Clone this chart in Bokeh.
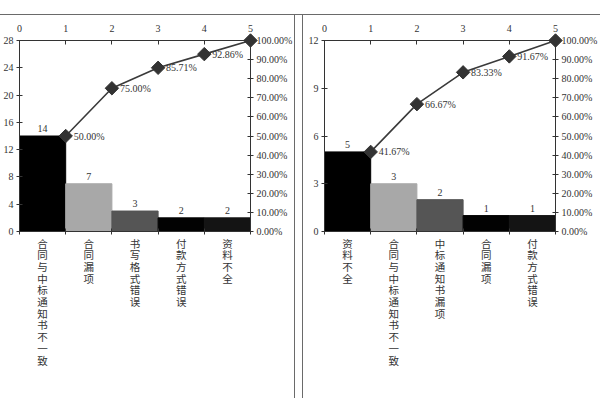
import math
from bokeh.plotting import figure
from bokeh.models import (Range1d, LinearAxis, FixedTicker, NumeralTickFormatter,
                          ColumnDataSource)
from bokeh.layouts import row
from bokeh.embed import file_html
from bokeh.resources import INLINE
from bokeh.core.properties import value

# ---- data ----
left_categories = ["合同与中标通知书不一致", "合同漏项", "书写格式错误", "付款方式错误", "资料不全"]
left_counts = [14, 7, 3, 2, 2]
left_cum_pct = [0.50, 0.75, 0.8571, 0.9286, 1.00]
left_count_ticks = [0, 4, 8, 12, 16, 20, 24, 28]

right_categories = ["资料不全", "合同与中标通知书不一致", "中标通知书漏项", "合同漏项", "付款方式错误"]
right_counts = [5, 3, 2, 1, 1]
right_cum_pct = [0.4167, 0.6667, 0.8333, 0.9167, 1.00]
right_count_ticks = [0, 3, 6, 9, 12]

pct_ticks = [0.0, 0.1, 0.2, 0.3, 0.4, 0.5, 0.6, 0.7, 0.8, 0.9, 1.0]
top_ticks = [0, 1, 2, 3, 4, 5]

# ---- styles ----
bar_colors = ["#000000", "#a8a8a8", "#555555", "#020202", "#141414"]
NUM_FONT = value("Liberation Serif")
CJK_FONT = "Noto Sans CJK SC"
TXT = "#333333"
AX = "#333333"
BORDER = "#6a6a6a"


def style_axis(ax, size="10px"):
    ax.axis_line_color = AX
    ax.major_tick_line_color = AX
    ax.minor_tick_line_color = None
    ax.major_label_text_font = "Liberation Serif"
    ax.major_label_text_font_size = size
    ax.major_label_text_color = TXT


def panel_bg(vline_x):
    g = f"linear-gradient({BORDER},{BORDER})"
    return {"background": f"{g} 0px 14px / 100% 1px no-repeat, {g} {vline_x}px 14px / 1px 100% no-repeat"}


def make_panel(cats, counts, cum, count_ticks, width, left, right, styles):
    n = len(cats)
    p = figure(width=width, height=398, x_range=Range1d(0, n),
               y_range=Range1d(0, count_ticks[-1]),
               output_backend="svg", toolbar_location=None,
               x_axis_location=None, y_axis_location=None,
               min_border_left=left, min_border_right=right,
               min_border_top=40, min_border_bottom=167, styles=styles)
    p.grid.visible = False
    p.outline_line_color = None
    p.background_fill_color = None
    p.border_fill_color = None
    p.extra_y_ranges = {"pct": Range1d(0, 1)}

    centers = [i + 0.5 for i in range(n)]
    src = ColumnDataSource(dict(x=centers, top=counts, color=bar_colors[:n],
                                label=[str(c) for c in counts]))
    p.vbar(x="x", top="top", width=1, fill_color="color", line_color="color", source=src)
    p.text(x="x", y="top", text="label", source=src, text_align="center",
           text_baseline="bottom", y_offset=-4, text_font=NUM_FONT,
           text_font_size="10px", text_color=TXT)

    ends = list(range(1, n + 1))
    lsrc = ColumnDataSource(dict(x=ends, y=cum))
    ln = p.line("x", "y", source=lsrc, y_range_name="pct", line_color="#3a3a3a", line_width=1.6)
    mk = p.scatter("x", "y", source=lsrc, y_range_name="pct", marker="square",
                   angle=math.pi / 4, size=9.5, fill_color="#333333", line_color="#333333")
    ln.level = "overlay"
    mk.level = "overlay"
    tsrc = ColumnDataSource(dict(x=ends[:-1], y=cum[:-1],
                                 label=[f"{v * 100:.2f}%" for v in cum[:-1]]))
    p.text(x="x", y="y", text="label", source=tsrc, y_range_name="pct",
           text_align="left", text_baseline="middle", x_offset=8,
           text_font=NUM_FONT, text_font_size="10px", text_color=TXT)

    # left count axis
    ya = LinearAxis(ticker=FixedTicker(ticks=count_ticks))
    style_axis(ya)
    ya.major_tick_in = 3
    ya.major_tick_out = 3
    ya.major_label_standoff = 3
    p.add_layout(ya, "left")

    # right percentage axis
    ra = LinearAxis(y_range_name="pct", ticker=FixedTicker(ticks=pct_ticks),
                    formatter=NumeralTickFormatter(format="0.00%"))
    style_axis(ra)
    ra.major_tick_in = 3
    ra.major_tick_out = 3
    ra.major_label_standoff = 3
    p.add_layout(ra, "right")

    # top index axis
    ta = LinearAxis(ticker=FixedTicker(ticks=top_ticks))
    style_axis(ta)
    ta.major_tick_in = 4
    ta.major_tick_out = 0
    ta.major_label_standoff = 9
    p.add_layout(ta, "above")

    # bottom category axis
    ba = LinearAxis(ticker=FixedTicker(ticks=centers, minor_ticks=top_ticks))
    style_axis(ba)
    ba.major_tick_line_color = None
    ba.minor_tick_line_color = AX
    ba.minor_tick_in = 3
    ba.minor_tick_out = 3
    ba.major_label_overrides = {c: "\n".join(list(cat)) for c, cat in zip(centers, cats)}
    ba.major_label_text_font = CJK_FONT
    ba.major_label_text_font_size = "10.5px"
    ba.major_label_text_line_height = 0.78
    ba.major_label_standoff = -2
    p.add_layout(ba, "below")
    return p


p1 = make_panel(left_categories, left_counts, left_cum_pct, left_count_ticks,
                298, 16, 48, panel_bg(294))
p2 = make_panel(right_categories, right_counts, right_cum_pct, right_count_ticks,
                302, 26, 44, panel_bg(4))

layout = row(p1, p2)

with open("out.html", "w") as f:
    f.write(file_html(layout, INLINE))
